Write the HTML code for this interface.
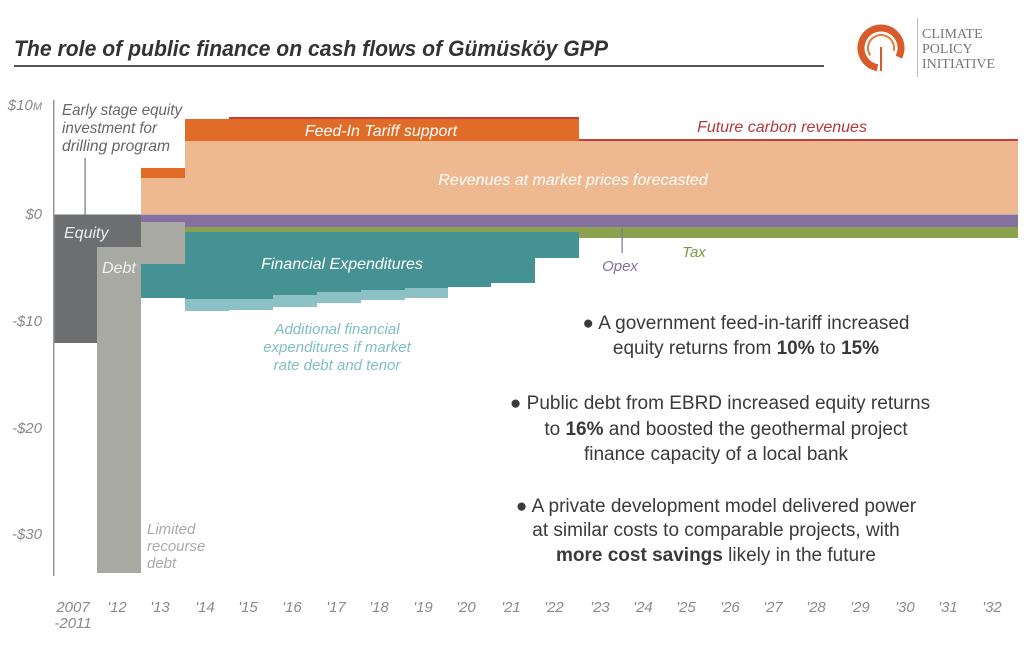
<!DOCTYPE html>
<html><head><meta charset="utf-8"><style>
body{margin:0;background:#fff}
svg{display:block}
text{font-family:"Liberation Sans Narrow","Liberation Sans",sans-serif}
.it{font-style:italic}
.ax{fill:#8a8a8a;font-size:15px;font-style:italic}
.bl{fill:#3a3a3a;font-size:19px}
</style></head><body>
<svg width="1024" height="646" viewBox="0 0 1024 646" xmlns="http://www.w3.org/2000/svg">
<text x="14" y="56" font-size="22" font-weight="bold" font-style="italic" fill="#333" textLength="594" lengthAdjust="spacingAndGlyphs">The role of public finance on cash flows of Gümüsköy GPP</text>
<rect x="14" y="65" width="810" height="2" fill="#555"/>
<!-- logo -->
<circle cx="881" cy="48" r="20" fill="none" stroke="#d95a2b" stroke-width="7" stroke-dasharray="100 26" transform="rotate(100 881 48)"/>
<circle cx="881" cy="48" r="13" fill="none" stroke="#e47a3c" stroke-width="2" stroke-dasharray="50 30" transform="rotate(150 881 48)"/>
<rect x="880" y="47" width="2" height="24" fill="#d95a2b"/>
<rect x="917" y="18" width="1" height="59" fill="#bbb"/>
<text x="922" y="38" style="font-family:'Liberation Serif',serif" font-size="14" fill="#777">CLIMATE</text>
<text x="922" y="53" style="font-family:'Liberation Serif',serif" font-size="14" fill="#777">POLICY</text>
<text x="922" y="68" style="font-family:'Liberation Serif',serif" font-size="14" fill="#777">INITIATIVE</text>

<!-- revenues -->
<rect x="141" y="168" width="44" height="10" fill="#e06c28"/>
<rect x="141" y="178" width="44" height="37" fill="#eeb990"/>
<rect x="185" y="141" width="833" height="74" fill="#eeb990"/>
<rect x="185" y="119" width="394" height="22" fill="#e06c28"/>
<rect x="229" y="117" width="350" height="2" fill="#c0413a"/>
<rect x="579" y="139" width="439" height="2" fill="#c0413a"/>
<!-- zero line -->
<rect x="54" y="214" width="964" height="2" fill="#b5b5b5"/>
<!-- purple / green -->
<rect x="141" y="215" width="877" height="7" fill="#8670a0"/>
<rect x="185" y="222" width="833" height="5" fill="#8670a0"/>
<rect x="185" y="227" width="833" height="11" fill="#8aa24e"/>
<!-- equity / debt -->
<rect x="54" y="215" width="87" height="32" fill="#6d6e70"/>
<rect x="54" y="247" width="43" height="96" fill="#6d6e70"/>
<rect x="97" y="247" width="44" height="326" fill="#a7a9a2"/>
<rect x="141" y="222" width="44" height="42" fill="#a7a9a2"/>
<!-- light teal -->
<path d="M141 298H185V311H229V310H273V307H317V303H361V300H405V298H448V288H141Z" fill="#8cc2c5"/>
<!-- teal -->
<path d="M141 264H185V232H579V258H535V283H491V287H448V288H405V290H361V292H317V295H273V299H185V298H141Z" fill="#459295"/>
<!-- axis -->
<rect x="53" y="100" width="1.5" height="476" fill="#999"/>
<rect x="84.5" y="158" width="1.2" height="57" fill="#777"/>
<rect x="621.5" y="228" width="1.2" height="25" fill="#8670a0"/>
<!-- y labels -->
<text class="ax" x="42" y="110" text-anchor="end">$10<tspan font-size="11">M</tspan></text>
<text class="ax" x="42" y="219" text-anchor="end">$0</text>
<text class="ax" x="42" y="326" text-anchor="end">-$10</text>
<text class="ax" x="42" y="433" text-anchor="end">-$20</text>
<text class="ax" x="42" y="539" text-anchor="end">-$30</text>
<!-- x labels -->
<g class="ax" text-anchor="middle">
<text x="73" y="612">2007</text><text x="73" y="628">-2011</text>
<text x="117" y="612">'12</text><text x="160" y="612">'13</text><text x="205" y="612">'14</text><text x="248" y="612">'15</text><text x="292" y="612">'16</text><text x="336" y="612">'17</text><text x="379" y="612">'18</text><text x="423" y="612">'19</text><text x="466" y="612">'20</text><text x="511" y="612">'21</text><text x="554" y="612">'22</text><text x="600" y="612">'23</text><text x="643" y="612">'24</text><text x="686" y="612">'25</text><text x="730" y="612">'26</text><text x="773" y="612">'27</text><text x="816" y="612">'28</text><text x="860" y="612">'29</text><text x="905" y="612">'30</text><text x="948" y="612">'31</text><text x="992" y="612">'32</text>
</g>
<!-- annotations -->
<g class="it" font-size="16" fill="#666">
<text x="62" y="115" textLength="120" lengthAdjust="spacingAndGlyphs">Early stage equity</text>
<text x="62" y="133" textLength="95" lengthAdjust="spacingAndGlyphs">investment for</text>
<text x="62" y="151" textLength="108" lengthAdjust="spacingAndGlyphs">drilling program</text>
</g>
<text class="it" x="64" y="238" font-size="16" fill="#eee">Equity</text>
<text class="it" x="102" y="273" font-size="16" fill="#f2f2f2">Debt</text>
<g class="it" font-size="15" fill="#aaa"><text x="147" y="534">Limited</text><text x="147" y="551">recourse</text><text x="147" y="568">debt</text></g>
<text class="it" x="381" y="136" font-size="16" fill="#fff" text-anchor="middle">Feed-In Tariff support</text>
<text class="it" x="573" y="185" font-size="16" fill="#fff" text-anchor="middle">Revenues at market prices forecasted</text>
<text class="it" x="782" y="132" font-size="16" fill="#b3383a" text-anchor="middle">Future carbon revenues</text>
<text class="it" x="342" y="269" font-size="16" fill="#fff" text-anchor="middle">Financial Expenditures</text>
<g class="it" font-size="15" fill="#7fbfc2" text-anchor="middle"><text x="337" y="334">Additional financial</text><text x="337" y="352">expenditures if market</text><text x="337" y="370">rate debt and tenor</text></g>
<text class="it" x="620" y="271" font-size="15" fill="#8670a0" text-anchor="middle">Opex</text>
<text class="it" x="694" y="257" font-size="15" fill="#7e9a3e" text-anchor="middle">Tax</text>
<!-- bullets -->
<g class="bl" text-anchor="middle">
<text x="746" y="329">● A government feed-in-tariff increased</text>
<text x="746" y="354">equity returns from <tspan font-weight="bold">10%</tspan> to <tspan font-weight="bold">15%</tspan></text>
<text x="720" y="409">●  Public debt from EBRD increased equity returns</text>
<text x="726" y="435">to <tspan font-weight="bold">16%</tspan> and boosted the geothermal project</text>
<text x="716" y="460">finance capacity of a local bank</text>
<text x="716" y="512">● A private development model delivered power</text>
<text x="716" y="536">at similar costs to comparable projects, with</text>
<text x="716" y="561"><tspan font-weight="bold">more cost savings</tspan> likely in the future</text>
</g>
</svg>
</body></html>
